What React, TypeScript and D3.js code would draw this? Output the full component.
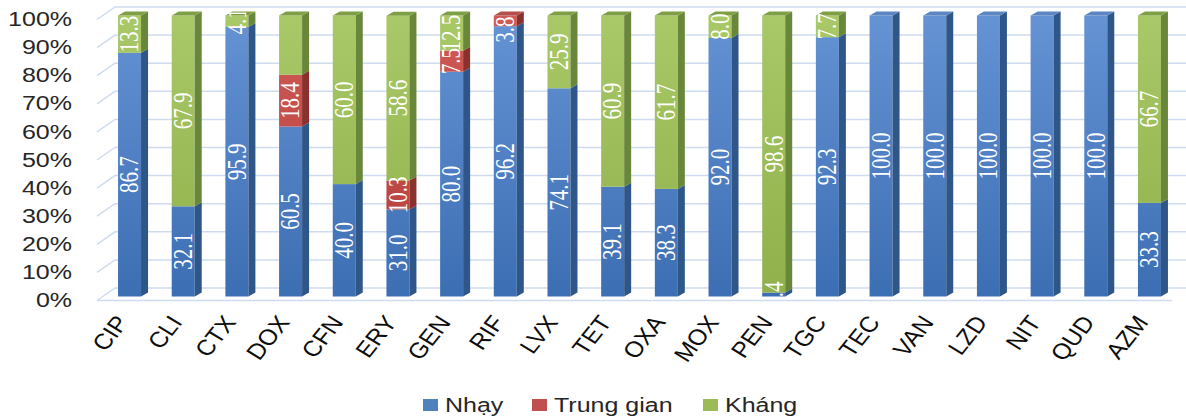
import React from "react";
import * as d3 from "d3";

const categories = ["CIP","CLI","CTX","DOX","CFN","ERY","GEN","RIF","LVX","TET","OXA","MOX","PEN","TGC","TEC","VAN","LZD","NIT","QUD","AZM"];
const nhay = [86.7,32.1,95.9,60.5,40.0,31.0,80.0,96.2,74.1,39.1,38.3,92.0,1.4,92.3,100,100,100,100,100,33.3];
const trungGian = [0,0,0,18.4,0,10.3,7.5,3.8,0,0,0,0,0,0,0,0,0,0,0,0];
const khang = [13.3,67.9,4.1,21.1,60.0,58.6,12.5,0,25.9,60.9,61.7,8.0,98.6,7.7,0,0,0,0,0,66.7];
const seriesNames = ["Nhạy","Trung gian","Kháng"];
const hiddenLabels = ["DOX|Kháng"];
const yTicks = [0,10,20,30,40,50,60,70,80,90,100];

const W = 1186, H = 420;
const frontColors = [["#6593d4","#3c6eb3"],["#d05a56","#b13c39"],["#a9c868","#8fb04a"]];
const sideColors = ["#2f5688","#8a302d","#68873a"];
const topColors = ["#5b86c2","#b4504d","#7f9f45"];
const legendColors = ["#4f81bd","#c0504d","#9bbb59"];

export default function App() {
  const series = [nhay, trungGian, khang];
  const x = d3.scaleBand<string>().domain(categories).range([102.7, 1176.3]).padding(0);
  const y = d3.scaleLinear().domain([0, 100]).range([296.5, 15.5]);
  const bw = 23, dx = 7, dy = -4;
  const sx = 1.25;
  const lf = 21;

  const bars: React.ReactNode[] = [];
  const labels: React.ReactNode[] = [];
  categories.forEach((c, i) => {
    const cx = (x(c) as number) + x.bandwidth() / 2;
    let acc = 0;
    const segs: { s: number; v: number; y0: number; y1: number }[] = [];
    series.forEach((arr, s) => {
      const v = arr[i];
      if (v > 0) {
        segs.push({ s, v, y0: acc, y1: acc + v });
        acc += v;
      }
    });
    segs.forEach((g, k) => {
      const yt = y(g.y1), yb = y(g.y0);
      const xl = cx - bw / 2, xr = cx + bw / 2;
      bars.push(
        <g key={`${c}-${g.s}`}>
          <rect x={xl} y={yt} width={bw} height={yb - yt} fill={`url(#grad${g.s})`} />
          <polygon points={`${xr},${yt} ${xr + dx},${yt + dy} ${xr + dx},${yb + dy} ${xr},${yb}`} fill={sideColors[g.s]} />
          {k === segs.length - 1 && (
            <polygon points={`${xl},${yt} ${xl + dx},${yt + dy} ${xr + dx},${yt + dy} ${xr},${yt}`} fill={topColors[g.s]} />
          )}
        </g>
      );
      if (hiddenLabels.includes(`${c}|${seriesNames[g.s]}`)) return;
      const txt = g.v.toFixed(1);
      const len = txt.split("").reduce((a, ch) => a + (ch === "." ? 0.25 : 0.5), 0) * lf;
      let cy = (yt + yb) / 2;
      if (g.s < series.length - 1) cy = Math.max(cy, y(100) + len / 2 + 1);
      labels.push(
        <text key={`l-${c}-${g.s}`} transform={`translate(${cx},${cy}) scale(${sx},1) rotate(-90)`}
          textAnchor="middle" dominantBaseline="central" fill="#ffffff"
          style={{ fontFamily: "'Liberation Serif', 'DejaVu Serif', serif", fontSize: lf }}>{txt}</text>
      );
    });
  });

  const gridBackX0 = 115, gridFrontX0 = 97, fOff = 4, bOff = -8.5;

  const legendItems = [
    { name: seriesNames[0], x: 423 },
    { name: seriesNames[1], x: 532 },
    { name: seriesNames[2], x: 703 },
  ];

  return (
    <svg width={W} height={H} style={{ position: "absolute", left: 0, top: 0, display: "block", background: "#fff" }}>
      <defs>
        {frontColors.map((fc, s) => (
          <linearGradient key={s} id={`grad${s}`} gradientUnits="userSpaceOnUse" x1="0" y1={y(100)} x2="0" y2={y(0)}>
            <stop offset="0" stopColor={fc[0]} />
            <stop offset="1" stopColor={fc[1]} />
          </linearGradient>
        ))}
        <clipPath id="plotclip">
          <rect x={0} y={12.5} width={W} height={297.5 - 12.5} />
        </clipPath>
      </defs>
      <g>
        {yTicks.map((t) => (
          <polyline key={t} points={`${gridFrontX0},${y(t) + fOff} ${gridBackX0},${y(t) + bOff} ${W},${y(t) + bOff}`}
            fill="none" stroke="#cfdcef" strokeWidth={1.5} />
        ))}
        <line x1={gridFrontX0} y1={y(0) + fOff} x2={1172} y2={y(0) + fOff} stroke="#cfdcef" strokeWidth={1.5} />
      </g>
      <g>{bars}</g>
      <g clipPath="url(#plotclip)">{labels}</g>
      <g>
        {yTicks.map((t) => (
          <text key={t} transform={`translate(72,${y(t) + fOff}) scale(${sx},1)`} textAnchor="end" dominantBaseline="central"
            fill="#262626" style={{ fontFamily: "'Liberation Sans', Arial, sans-serif", fontSize: 20 }}>{`${t}%`}</text>
        ))}
      </g>
      <g>
        {categories.map((c) => {
          const cx = (x(c) as number) + x.bandwidth() / 2;
          return (
            <text key={c} transform={`translate(${cx},${y(0) + 26}) scale(1.15,1) rotate(-55)`} textAnchor="end"
              fill="#0d0d0d" style={{ fontFamily: "'Liberation Sans', Arial, sans-serif", fontSize: 22 }}>{c}</text>
          );
        })}
      </g>
      <g>
        {legendItems.map((it, s) => (
          <g key={it.name}>
            <rect x={it.x} y={399} width={15} height={12} fill={legendColors[s]} />
            <text transform={`translate(${it.x + 22},${405}) scale(${sx},1)`} dominantBaseline="central" fill="#262626"
              style={{ fontFamily: "'Liberation Sans', Arial, sans-serif", fontSize: 20 }}>{it.name}</text>
          </g>
        ))}
      </g>
    </svg>
  );
}
